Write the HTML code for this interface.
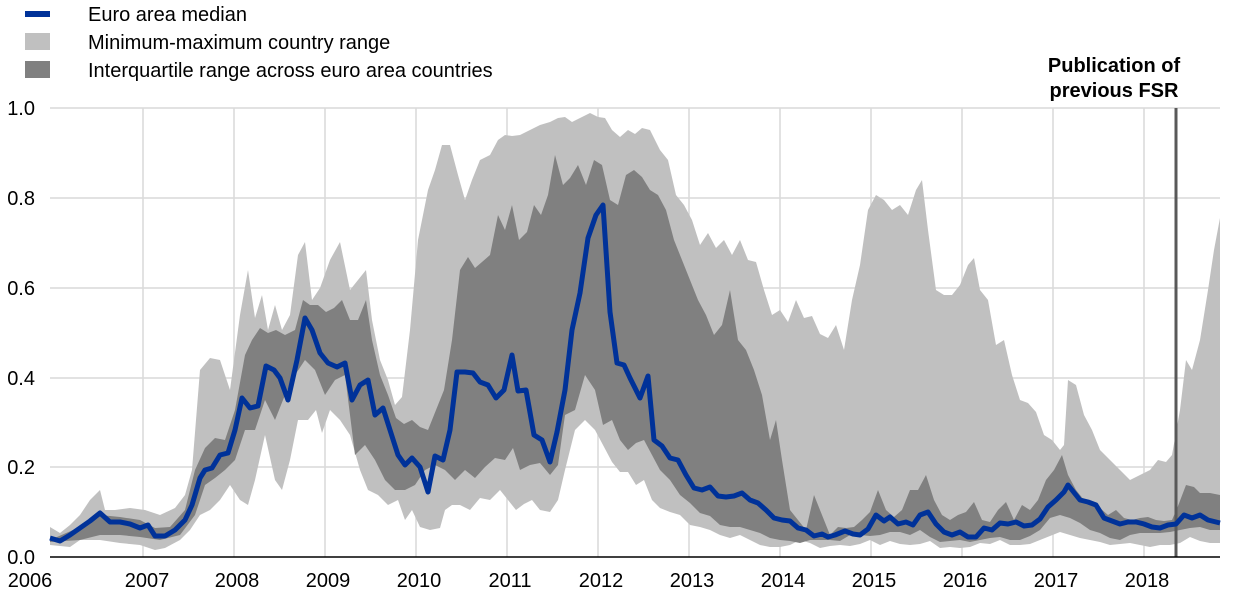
<!DOCTYPE html>
<html><head><meta charset="utf-8"><style>
body{margin:0;background:#fff;}
svg{display:block;font-family:"Liberation Sans",Arial,sans-serif;}
</style></head><body>
<svg width="1240" height="598" viewBox="0 0 1240 598">
<g stroke="#d9d9d9" stroke-width="1.5">
<line x1="50" y1="108" x2="1220" y2="108"/><line x1="50" y1="198" x2="1220" y2="198"/>
<line x1="50" y1="288" x2="1220" y2="288"/><line x1="50" y1="378" x2="1220" y2="378"/>
<line x1="50" y1="467" x2="1220" y2="467"/>
<line x1="143" y1="108" x2="143" y2="557"/><line x1="234" y1="108" x2="234" y2="557"/>
<line x1="325" y1="108" x2="325" y2="557"/><line x1="416" y1="108" x2="416" y2="557"/>
<line x1="507" y1="108" x2="507" y2="557"/><line x1="598" y1="108" x2="598" y2="557"/>
<line x1="689" y1="108" x2="689" y2="557"/><line x1="780" y1="108" x2="780" y2="557"/>
<line x1="871" y1="108" x2="871" y2="557"/><line x1="962" y1="108" x2="962" y2="557"/>
<line x1="1053" y1="108" x2="1053" y2="557"/><line x1="1144" y1="108" x2="1144" y2="557"/>
</g>
<polygon fill="#c0c0c0" points="50,527 60,533 70,525 80,515 90,500 100,490 105,510 115,510 130,508 145,510 160,515 175,508 185,495 192,470 200,370 210,358 220,360 230,390 240,315 248,270 255,318 262,295 268,330 275,305 282,330 290,315 298,255 305,242 312,300 320,288 330,260 340,242 350,290 358,280 366,270 372,320 380,360 388,380 395,405 402,397 410,330 418,240 428,190 435,170 442,145 450,145 458,175 465,200 472,180 480,160 490,155 498,140 505,135 512,136 520,135 530,130 540,125 550,122 558,118 565,117 572,122 580,118 590,113 598,117 605,118 612,130 620,137 628,130 635,134 642,128 650,130 660,150 668,160 676,195 684,205 692,220 700,245 708,233 716,248 724,240 732,255 740,240 748,260 756,262 764,290 772,315 780,310 788,322 796,300 804,318 812,316 820,334 828,338 836,325 844,350 852,300 860,265 868,210 876,195 884,200 892,210 900,205 908,215 916,190 922,180 928,230 936,290 944,295 952,295 960,285 968,265 974,258 980,290 988,300 996,345 1004,340 1012,375 1020,400 1028,403 1036,412 1044,435 1052,440 1060,450 1064,445 1068,380 1076,385 1084,415 1092,430 1100,450 1110,460 1120,470 1130,480 1140,475 1150,470 1158,460 1166,462 1172,455 1180,410 1186,360 1192,370 1200,340 1208,290 1214,250 1220,218 1220,543 1210,543 1200,541 1190,537 1180,543 1170,545 1160,545 1150,547 1140,545 1130,543 1120,544 1110,545 1100,542 1090,540 1080,538 1070,535 1060,532 1050,536 1040,540 1030,544 1020,545 1010,545 1000,540 990,544 980,543 970,547 960,548 950,547 940,548 930,541 920,544 910,545 900,544 890,541 880,545 870,540 860,544 850,546 840,545 830,546 820,548 810,543 800,540 790,545 780,547 770,547 760,545 750,540 740,535 730,538 720,535 710,530 700,527 690,525 680,515 670,512 660,508 652,500 644,480 636,485 628,472 620,472 612,462 603,445 595,430 585,420 575,430 565,470 558,500 550,512 540,510 532,500 524,504 516,510 508,500 500,490 490,500 480,498 470,510 460,505 452,505 445,510 440,528 430,530 420,527 412,510 405,520 398,500 388,505 378,495 368,490 360,470 350,435 340,420 330,410 322,433 316,410 308,420 298,420 290,460 282,490 275,480 265,435 255,480 248,505 240,500 230,485 220,500 210,510 200,515 190,530 180,540 165,548 155,550 140,545 120,543 100,540 80,540 70,547 50,545"/>
<polygon fill="#808080" points="50,540 80,527 100,515 120,517 140,520 155,528 170,527 185,510 195,470 205,448 215,438 225,440 235,410 245,355 252,340 260,328 268,333 276,330 285,335 295,330 303,300 310,305 318,305 326,312 334,308 342,300 350,320 358,320 366,300 372,340 380,375 388,395 396,418 404,424 412,420 420,427 428,430 436,410 444,390 452,340 460,270 468,257 475,268 482,262 490,255 498,215 505,230 512,205 519,240 527,232 534,205 541,215 548,195 555,155 563,185 570,178 578,165 586,185 594,160 602,165 610,200 618,205 626,175 634,170 642,177 650,190 658,195 666,210 674,240 682,260 690,280 698,300 706,315 714,335 722,325 730,290 738,340 746,350 754,370 762,395 770,440 776,420 782,460 790,510 798,520 806,530 814,495 822,515 830,535 838,527 846,528 854,527 862,520 870,512 878,490 886,510 894,517 902,510 910,490 918,490 926,475 934,500 942,515 950,520 958,515 966,512 974,502 982,520 990,522 998,510 1006,502 1014,520 1022,505 1030,510 1038,500 1046,480 1054,470 1062,455 1068,475 1076,490 1084,500 1092,505 1100,508 1108,515 1116,510 1124,518 1132,520 1140,518 1148,517 1156,520 1164,521 1172,520 1178,506 1186,485 1194,487 1200,493 1210,493 1220,495 1220,530 1210,530 1200,527 1190,528 1180,530 1170,532 1160,533 1150,533 1140,533 1130,535 1120,540 1110,538 1100,533 1090,530 1080,523 1070,518 1060,515 1050,518 1040,530 1030,536 1020,540 1010,540 1000,537 990,538 980,540 970,542 960,540 950,541 940,542 930,537 920,530 910,535 900,532 890,532 880,535 870,536 860,535 850,535 840,541 830,540 820,540 810,540 800,543 790,541 780,540 770,538 760,533 750,530 740,527 730,527 720,525 710,516 700,513 690,503 680,495 670,480 660,470 652,455 644,440 636,443 628,450 620,440 612,420 603,425 595,390 585,375 575,410 565,415 558,465 550,475 540,463 530,465 520,470 513,448 505,460 495,458 485,467 475,478 465,470 455,480 445,470 435,465 425,470 415,485 405,490 395,490 385,480 375,460 365,445 355,455 345,375 335,380 325,395 315,370 305,360 295,375 285,395 275,420 265,400 255,430 245,430 235,460 225,470 215,478 205,485 195,515 180,535 160,540 140,537 120,535 100,535 80,540 50,542"/>
<line x1="1176" y1="108" x2="1176" y2="557" stroke="#595959" stroke-width="3"/>
<polyline fill="none" stroke="#003299" stroke-width="5" stroke-linejoin="round" points="50,538 60,541 70,535 80,528 90,521 100,513 110,522 120,522 130,524 140,528 148,525 155,536 165,536 175,530 185,520 192,505 200,478 205,470 212,468 220,455 228,453 235,430 242,398 250,408 258,406 266,366 274,370 280,378 288,400 297,360 305,318 312,330 320,353 328,363 337,367 345,363 352,400 360,385 368,380 375,415 383,408 390,430 398,455 405,465 412,458 420,467 428,492 435,456 443,460 450,430 457,372 465,372 473,373 480,382 488,385 496,398 504,390 512,355 518,391 526,390 534,435 542,440 550,462 557,432 565,390 572,330 580,293 588,238 596,215 603,205 610,312 617,363 624,365 630,378 640,398 648,376 654,440 662,446 670,458 678,460 686,475 694,488 702,490 710,487 718,496 726,497 734,496 742,493 750,500 758,503 766,510 774,518 782,520 790,521 798,528 806,530 814,536 822,534 828,537 835,535 845,531 853,534 860,535 868,529 876,515 884,521 890,517 898,524 906,522 913,525 920,515 928,512 936,524 944,532 952,535 960,532 968,537 976,537 984,528 992,530 1000,523 1008,524 1016,522 1024,526 1032,525 1040,519 1048,507 1056,500 1064,492 1068,485 1072,490 1080,500 1088,502 1096,505 1104,518 1112,521 1120,524 1128,522 1136,522 1144,524 1152,527 1160,528 1168,525 1176,524 1184,515 1192,518 1200,515 1208,520 1220,523"/>
<line x1="50" y1="557" x2="1220" y2="557" stroke="#000" stroke-width="1.5"/>
<g font-size="20" fill="#000" text-anchor="end">
<text x="35" y="115">1.0</text><text x="35" y="205">0.8</text><text x="35" y="295">0.6</text>
<text x="35" y="385">0.4</text><text x="35" y="474">0.2</text><text x="35" y="564">0.0</text>
</g>
<g font-size="20" fill="#000" text-anchor="middle">
<text x="30" y="587">2006</text><text x="147" y="587">2007</text><text x="237" y="587">2008</text>
<text x="328" y="587">2009</text><text x="419" y="587">2010</text><text x="510" y="587">2011</text>
<text x="601" y="587">2012</text><text x="692" y="587">2013</text><text x="783" y="587">2014</text>
<text x="874" y="587">2015</text><text x="965" y="587">2016</text><text x="1056" y="587">2017</text>
<text x="1147" y="587">2018</text>
</g>
<g font-size="20" font-weight="bold" text-anchor="middle">
<text x="1114" y="72">Publication of</text><text x="1114" y="97">previous FSR</text>
</g>
<rect x="25" y="11" width="25" height="6" fill="#003299"/>
<rect x="25" y="33" width="25" height="17" fill="#c0c0c0"/>
<rect x="25" y="61" width="25" height="17" fill="#808080"/>
<g font-size="20">
<text x="88" y="21">Euro area median</text>
<text x="88" y="49">Minimum-maximum country range</text>
<text x="88" y="77">Interquartile range across euro area countries</text>
</g>
</svg>
</body></html>
